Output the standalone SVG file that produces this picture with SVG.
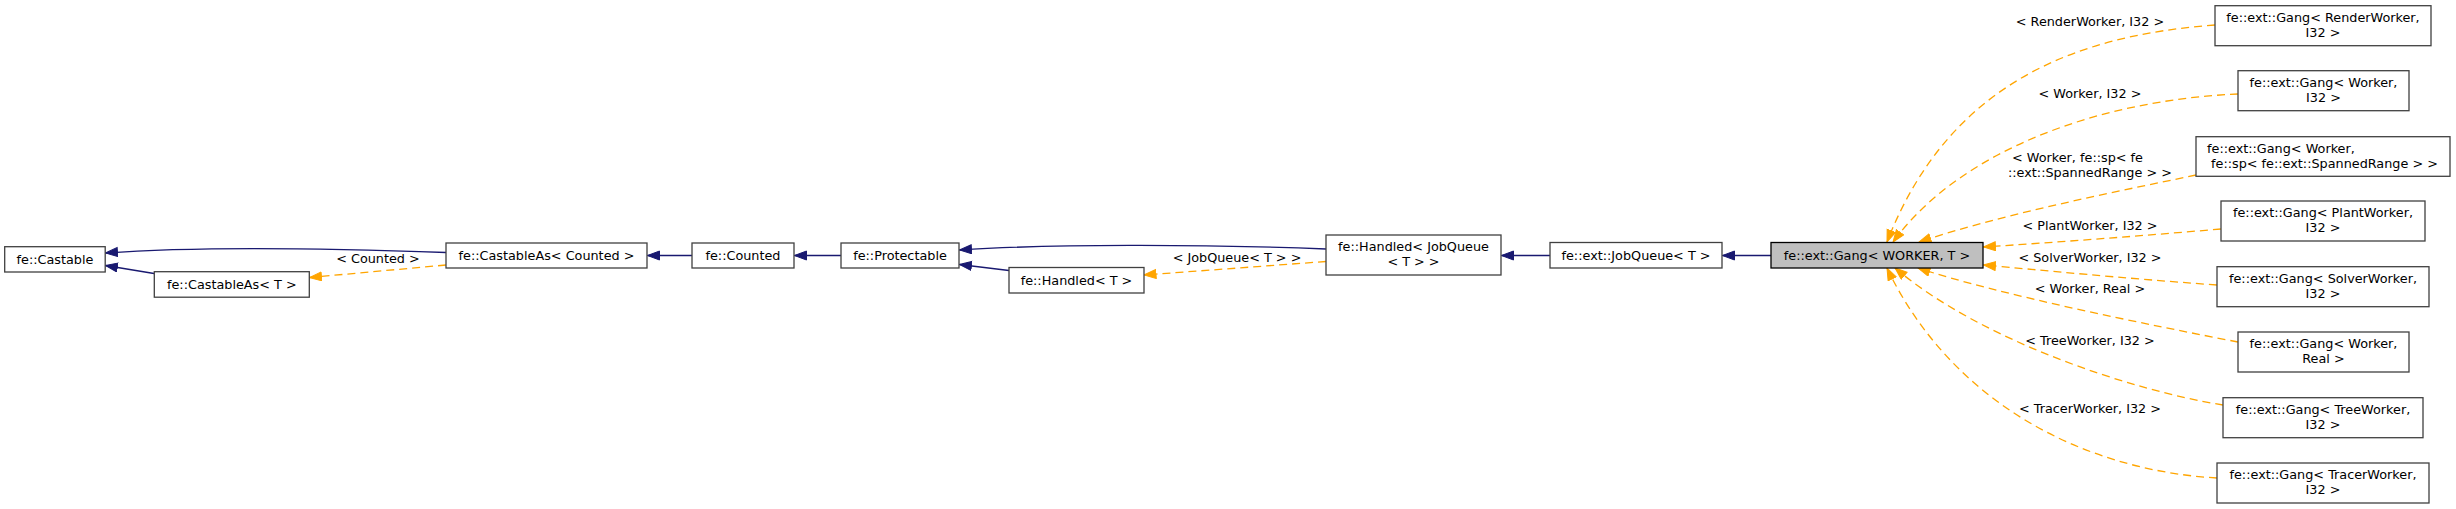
<svg xmlns="http://www.w3.org/2000/svg" width="2456" height="509" viewBox="0 0 2456 509">
<style>
text{font-family:"DejaVu Sans","Liberation Sans",sans-serif;font-size:12.8px;fill:#000}
.c{text-anchor:middle}
.s{text-anchor:start}
.n{fill:#fff;stroke:#404040;stroke-width:1.3}
.g{fill:#bfbfbf;stroke:#000;stroke-width:1.3}
.e{fill:none;stroke:#191970;stroke-width:1.3;marker-end:url(#an)}
.d{fill:none;stroke:#ffa500;stroke-width:1.3;stroke-dasharray:8,5;marker-end:url(#ao)}
</style>
<defs>
<marker id="an" markerWidth="14" markerHeight="12" refX="12.5" refY="5" orient="auto" markerUnits="userSpaceOnUse"><path d="M0.5,0.5 L12.5,5 L0.5,9.5 z" fill="#191970" stroke="#191970" stroke-width="1"/></marker>
<marker id="ao" markerWidth="14" markerHeight="12" refX="12.5" refY="5" orient="auto" markerUnits="userSpaceOnUse"><path d="M0.5,0.5 L12.5,5 L0.5,9.5 z" fill="#ffa500" stroke="#ffa500" stroke-width="1"/></marker>
</defs>
<rect width="2456" height="509" fill="#fff"/>
<g id="edges">
<path class="e" d="M446,252.5 C350,249 200,246 105.5,253"/>
<path class="e" d="M154,273.5 L105.5,265.5"/>
<path class="d" d="M446,265 L309.5,277.5"/>
<path class="e" d="M692,255.5 L647.5,255.5"/>
<path class="e" d="M841,255.5 L794.5,255.5"/>
<path class="e" d="M1326,249 C1200,244 1050,244 959.5,250"/>
<path class="e" d="M1009,270.5 L959.5,264.5"/>
<path class="d" d="M1326,261.5 L1144,275"/>
<path class="e" d="M1550,255.5 L1501.5,255.5"/>
<path class="e" d="M1771,255.5 L1722.5,255.5"/>
<path class="d" d="M2215,25 C2080,35 1950,80 1887,242"/>
<path class="d" d="M2238,94 C2100,100 1960,150 1893,242"/>
<path class="d" d="M2196,175 C2100,195 2000,215 1919,242"/>
<path class="d" d="M2221,229 C2140,236 2060,242 1983.5,247"/>
<path class="d" d="M2217,285 C2120,278 2040,270 1983.5,265"/>
<path class="d" d="M2238,342 C2150,325 2000,295 1918,268"/>
<path class="d" d="M2223,405 C2130,390 1980,340 1895,268"/>
<path class="d" d="M2217,478 C2080,470 1950,400 1887,268"/>
<text class="c" x="378" y="263">&lt; Counted &gt;</text>
<text class="c" x="1237" y="262">&lt; JobQueue&lt; T &gt; &gt;</text>
<text class="c" x="2090" y="26">&lt; RenderWorker, I32 &gt;</text>
<text class="c" x="2090" y="97.5">&lt; Worker, I32 &gt;</text>
<text class="s" x="2012" y="162">&lt; Worker, fe::sp&lt; fe</text>
<text class="s" x="2008" y="176.5">::ext::SpannedRange &gt; &gt;</text>
<text class="c" x="2090" y="229.5">&lt; PlantWorker, I32 &gt;</text>
<text class="c" x="2090" y="261.5">&lt; SolverWorker, I32 &gt;</text>
<text class="c" x="2090" y="292.5">&lt; Worker, Real &gt;</text>
<text class="c" x="2090" y="344.5">&lt; TreeWorker, I32 &gt;</text>
<text class="c" x="2090" y="412.5">&lt; TracerWorker, I32 &gt;</text>
</g>
<g id="n_castable"><rect class="n" x="4.7" y="246.7" width="100.5" height="25.3"/><text class="c" x="55" y="264">fe::Castable</text></g>
<g id="n_castableas_t"><rect class="n" x="154.3" y="271.7" width="155" height="25.5"/><text class="c" x="231.8" y="289">fe::CastableAs&lt; T &gt;</text></g>
<g id="n_castableas_counted"><rect class="n" x="446" y="243" width="201" height="25"/><text class="c" x="546.5" y="260">fe::CastableAs&lt; Counted &gt;</text></g>
<g id="n_counted"><rect class="n" x="692" y="243" width="102" height="25"/><text class="c" x="743" y="260">fe::Counted</text></g>
<g id="n_protectable"><rect class="n" x="841" y="243" width="118" height="25"/><text class="c" x="900" y="260">fe::Protectable</text></g>
<g id="n_handled_t"><rect class="n" x="1009" y="267.5" width="135" height="25.5"/><text class="c" x="1076.5" y="285">fe::Handled&lt; T &gt;</text></g>
<g id="n_handled_jq"><rect class="n" x="1326" y="235" width="175" height="40"/><text class="c" x="1413.5" y="251">fe::Handled&lt; JobQueue</text><text class="c" x="1413.5" y="265.5">&lt; T &gt; &gt;</text></g>
<g id="n_jobqueue"><rect class="n" x="1550" y="242.5" width="172" height="25.5"/><text class="c" x="1636" y="260">fe::ext::JobQueue&lt; T &gt;</text></g>
<g id="n_gang"><rect class="g" x="1771" y="242.5" width="212" height="25.5"/><text class="c" x="1877" y="260">fe::ext::Gang&lt; WORKER, T &gt;</text></g>
<g id="n_render"><rect class="n" x="2215" y="5.7" width="216" height="40"/><text class="c" x="2323" y="22">fe::ext::Gang&lt; RenderWorker,</text><text class="c" x="2323" y="36.5">I32 &gt;</text></g>
<g id="n_worker_i32"><rect class="n" x="2238" y="70.7" width="171" height="40"/><text class="c" x="2323.5" y="87">fe::ext::Gang&lt; Worker,</text><text class="c" x="2323.5" y="101.5">I32 &gt;</text></g>
<g id="n_worker_sp"><rect class="n" x="2196" y="136.7" width="254" height="39.6"/><text class="s" x="2207" y="153">fe::ext::Gang&lt; Worker,</text><text class="s" x="2211" y="167.5">fe::sp&lt; fe::ext::SpannedRange &gt; &gt;</text></g>
<g id="n_plant"><rect class="n" x="2221" y="201" width="204" height="40"/><text class="c" x="2323" y="217.3">fe::ext::Gang&lt; PlantWorker,</text><text class="c" x="2323" y="231.8">I32 &gt;</text></g>
<g id="n_solver"><rect class="n" x="2217" y="266.7" width="212" height="40"/><text class="c" x="2323" y="283">fe::ext::Gang&lt; SolverWorker,</text><text class="c" x="2323" y="297.5">I32 &gt;</text></g>
<g id="n_worker_real"><rect class="n" x="2238" y="332" width="171" height="40"/><text class="c" x="2323.5" y="348.3">fe::ext::Gang&lt; Worker,</text><text class="c" x="2323.5" y="362.8">Real &gt;</text></g>
<g id="n_tree"><rect class="n" x="2223" y="397.7" width="200" height="40"/><text class="c" x="2323" y="414">fe::ext::Gang&lt; TreeWorker,</text><text class="c" x="2323" y="428.5">I32 &gt;</text></g>
<g id="n_tracer"><rect class="n" x="2217" y="463" width="212" height="40"/><text class="c" x="2323" y="479.3">fe::ext::Gang&lt; TracerWorker,</text><text class="c" x="2323" y="493.8">I32 &gt;</text></g>
</svg>
